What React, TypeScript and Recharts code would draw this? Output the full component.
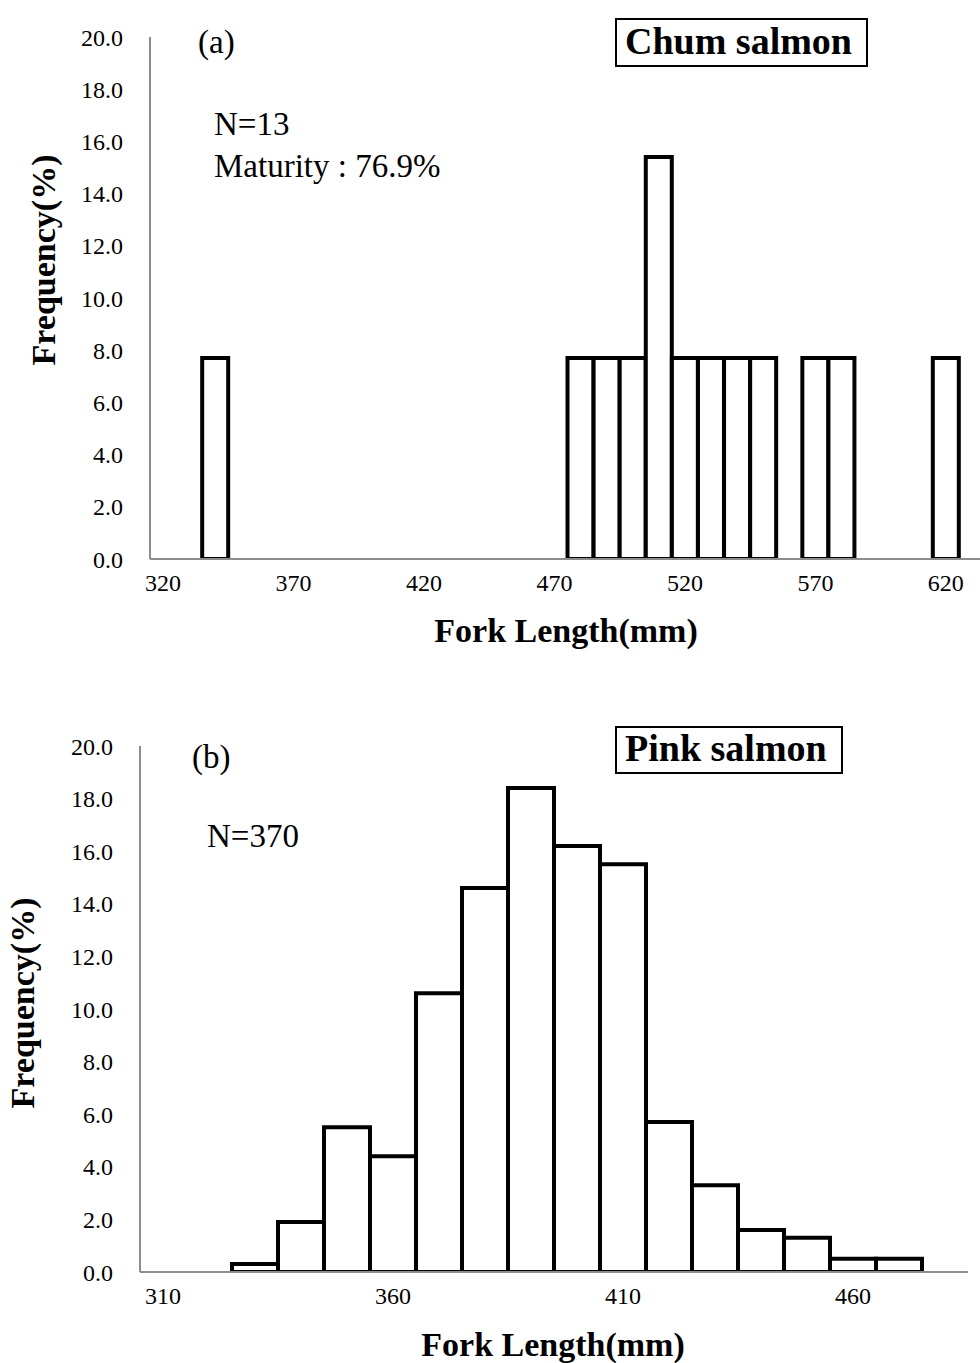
import React from 'react';
import { BarChart, Bar, XAxis, YAxis } from 'recharts';

const FONT = "'Times New Roman', 'Liberation Serif', serif";

// (a) Chum salmon — fork length classes (mm) and frequency (%)
const chumLengths = [320, 330, 340, 350, 360, 370, 380, 390, 400, 410, 420, 430, 440, 450, 460, 470,
  480, 490, 500, 510, 520, 530, 540, 550, 560, 570, 580, 590, 600, 610, 620, 630];
const chumFreq = [0, 0, 7.7, 0, 0, 0, 0, 0, 0, 0, 0, 0, 0, 0, 0, 0,
  7.7, 7.7, 7.7, 15.4, 7.7, 7.7, 7.7, 7.7, 0, 7.7, 7.7, 0, 0, 0, 7.7, 0];

// (b) Pink salmon
const pinkLengths = [310, 320, 330, 340, 350, 360, 370, 380, 390, 400, 410, 420, 430, 440, 450, 460, 470, 480];
const pinkFreq = [0, 0, 0.3, 1.9, 5.5, 4.4, 10.6, 14.6, 18.4, 16.2, 15.5, 5.7, 3.3, 1.6, 1.3, 0.5, 0.5, 0];

const yTicks = [0, 2, 4, 6, 8, 10, 12, 14, 16, 18, 20];

const chumData = chumLengths.map((l, i) => ({ len: l, freq: chumFreq[i] }));
const pinkData = pinkLengths.map((l, i) => ({ len: l, freq: pinkFreq[i] }));

const axisLine = { stroke: '#8c8c8c', strokeWidth: 2 };
const tickStyle = { fill: '#000', fontSize: 24, fontFamily: FONT };

function Histo({ data, width, height, margin, yWidth }: any) {
  return (
    <BarChart width={width} height={height} data={data} margin={margin} barCategoryGap={0} barGap={0}>
      <XAxis
        dataKey="len"
        type="category"
        interval={4}
        height={30}
        tickLine={false}
        tickSize={0}
        tickMargin={15}
        axisLine={axisLine}
        tick={tickStyle}
      />
      <YAxis
        type="number"
        domain={[0, 20]}
        ticks={yTicks}
        width={yWidth}
        tickLine={false}
        tickSize={0}
        tickMargin={27}
        axisLine={axisLine}
        tick={tickStyle}
        tickFormatter={(v: number) => v.toFixed(1)}
        allowDataOverflow
      />
      <Bar dataKey="freq" fill="#fff" stroke="#000" strokeWidth={4} isAnimationActive={false} />
    </BarChart>
  );
}

export default function App() {
  return (
    <div style={{ position: 'absolute', left: 0, top: 0, width: 980, height: 1363, overflow: 'hidden', background: '#fff' }}>
      <div style={{ position: 'absolute', left: 0, top: 0 }}>
        <Histo
          data={chumData}
          width={990}
          height={640}
          yWidth={150}
          margin={{ top: 37, right: 5, left: 0, bottom: 640 - 559 - 30 }}
        />
      </div>
      <div style={{ position: 'absolute', left: 0, top: 700 }}>
        <Histo
          data={pinkData}
          width={980}
          height={663}
          yWidth={140}
          margin={{ top: 46, right: 12, left: 0, bottom: 663 - 572 - 30 }}
        />
      </div>
      <svg width={980} height={1363} style={{ position: 'absolute', left: 0, top: 0, pointerEvents: 'none' }}
        fontFamily={FONT}>
        {/* (a) annotations */}
        <text x={198} y={53} fontSize={33} fill="#000">(a)</text>
        <text x={214} y={135} fontSize={33} fill="#000">N=13</text>
        <text x={214} y={177} fontSize={33} fill="#000">Maturity : 76.9%</text>
        <rect x={616} y={19} width={251} height={47} fill="none" stroke="#000" strokeWidth={2} />
        <text x={625} y={54} fontSize={38} fontWeight="bold" fill="#000">Chum salmon</text>
        <text x={566} y={642} fontSize={34} fontWeight="bold" fill="#000" textAnchor="middle">Fork Length(mm)</text>
        <text x={0} y={0} fontSize={34} fontWeight="bold" fill="#000" textAnchor="middle"
          transform="translate(55,260) rotate(-90)">Frequency(%)</text>

        {/* (b) annotations */}
        <text x={192} y={768} fontSize={33} fill="#000">(b)</text>
        <text x={207} y={847} fontSize={33} fill="#000">N=370</text>
        <rect x={616} y={727} width={226} height={46} fill="none" stroke="#000" strokeWidth={2} />
        <text x={625} y={761} fontSize={38} fontWeight="bold" fill="#000">Pink salmon</text>
        <text x={553} y={1356} fontSize={34} fontWeight="bold" fill="#000" textAnchor="middle">Fork Length(mm)</text>
        <text x={0} y={0} fontSize={34} fontWeight="bold" fill="#000" textAnchor="middle"
          transform="translate(34,1003) rotate(-90)">Frequency(%)</text>
      </svg>
    </div>
  );
}
